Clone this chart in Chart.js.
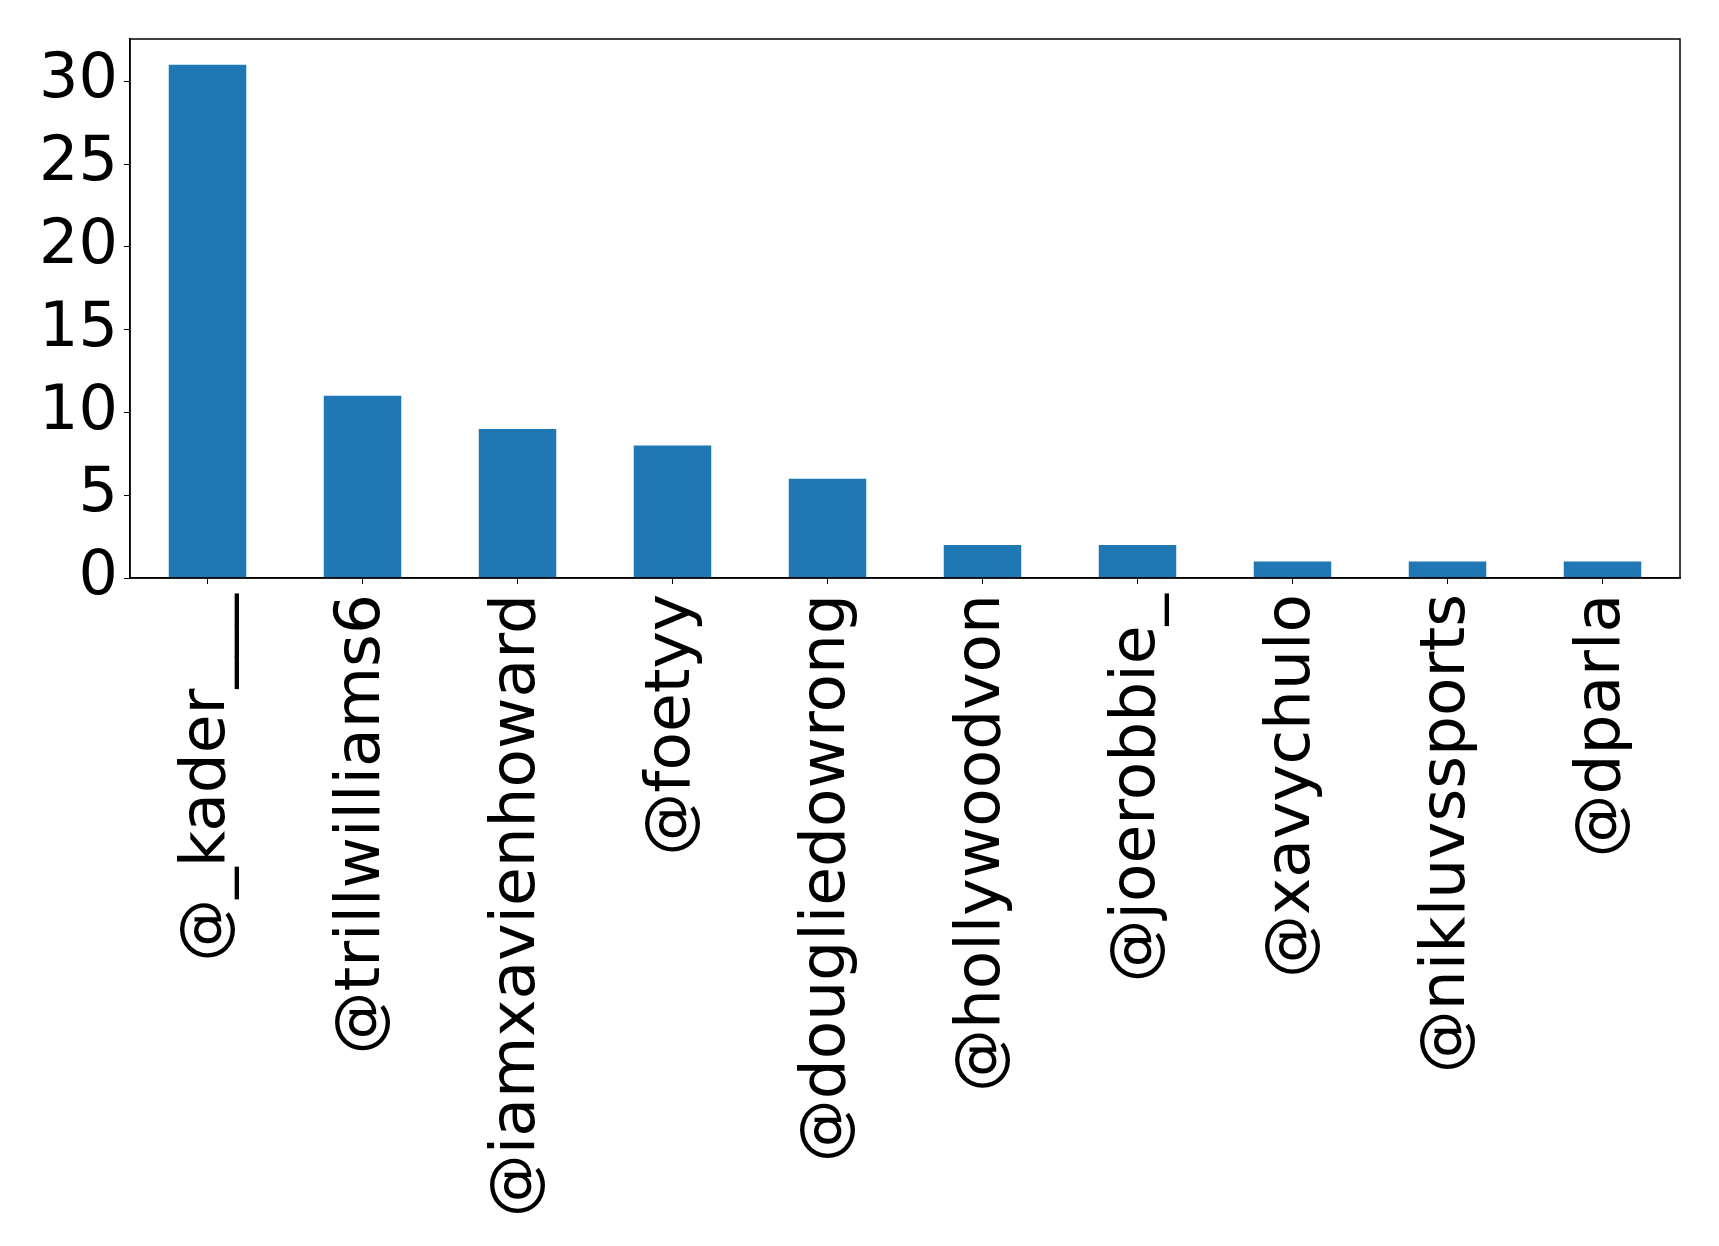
<!DOCTYPE html>
<html>
<head>
<meta charset="utf-8">
<script src="https://cdn.jsdelivr.net/npm/chart.js@4/dist/chart.umd.min.js"></script>
<style>
  body { margin: 0; background: #fff; }
  canvas { display: block; }
</style>
</head>
<body>
<canvas id="bars" width="1719" height="1246"></canvas>
<script>
// data
const users = ["@_kader___", "@trillwilliams6", "@iamxavienhoward", "@foetyy", "@dougliedowrong",
               "@hollywoodvon", "@joerobbie_", "@xavychulo", "@nikluvssports", "@dparla"];
const counts = [31, 11, 9, 8, 6, 2, 2, 1, 1, 1];
const yTicks = [0, 5, 10, 15, 20, 25, 30];

/* frame round the plot area */
const frame = {
  id: "frame",
  afterDraw(chart) {
    const a = chart.chartArea, c = chart.ctx;
    c.save();
    c.strokeStyle = "#000";
    c.lineWidth = 1.5;
    c.strokeRect(a.left, a.top, a.right - a.left, a.bottom - a.top);
    c.restore();
  }
};

new Chart(document.getElementById("bars"), {
  type: "bar",
  data: {
    labels: users,
    datasets: [{
      data: counts,
      backgroundColor: "#1f77b4",
      categoryPercentage: 1.0,
      barPercentage: 0.5
    }]
  },
  options: {
    responsive: false,
    animation: false,
    layout: { padding: { top: 39, right: 39, left: 0, bottom: 0 } },
    plugins: { legend: { display: false }, tooltip: { enabled: false } },
    scales: {
      x: {
        grid: { drawOnChartArea: false, drawTicks: true, tickLength: 6, color: "#000", offset: false },
        border: { color: "#000", width: 1.5 },
        ticks: { color: "#000", font: { family: "DejaVu Sans", size: 63 }, maxRotation: 90, minRotation: 90, padding: 10, autoSkip: false },
        afterFit(s) { s.height = 668; s.paddingLeft = 0; s.paddingRight = 0; }
      },
      y: {
        min: 0,
        max: 32.55,
        grid: { drawOnChartArea: false, drawTicks: true, tickLength: 6, color: "#000" },
        border: { color: "#000", width: 1.5 },
        ticks: { color: "#000", font: { family: "DejaVu Sans", size: 62 }, padding: 6 },
        afterBuildTicks(s) { s.ticks = yTicks.map(v => ({ value: v })); },
        afterFit(s) { s.width = 130; s.paddingTop = 0; s.paddingBottom = 0; }
      }
    }
  },
  plugins: [frame]
});
</script>
</body>
</html>
